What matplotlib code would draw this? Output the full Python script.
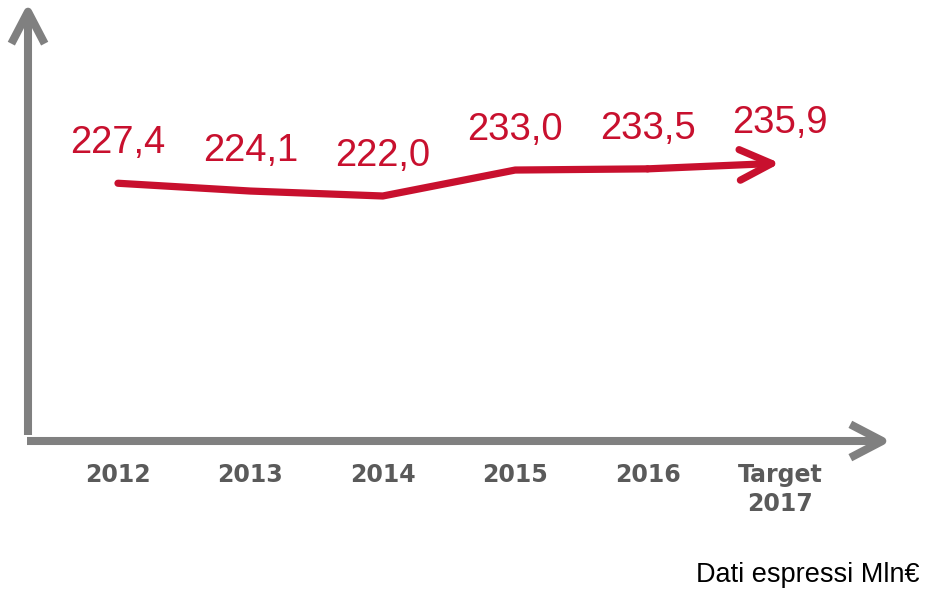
import matplotlib
matplotlib.use("Agg")
import matplotlib.pyplot as plt

years = ["2012", "2013", "2014", "2015", "2016", "Target\n2017"]
values = [227.4, 224.1, 222.0, 233.0, 233.5, 235.9]
labels = ["227,4", "224,1", "222,0", "233,0", "233,5", "235,9"]
note = "Dati espressi Mln€"

RED = "#C8102E"
GREY = "#808080"
W, H = 925, 589

fig = plt.figure(figsize=(W / 100, H / 100), dpi=100)
ax = fig.add_axes([0, 0, 1, 1])
ax.set_xlim(-0.891, 6.095)
ax.set_ylim(55.47, 305.05)
ax.axis("off")

def px(x, y):
    # pixel position -> axes fraction (for decorations only)
    return (x / W, 1 - y / H)

# grey axis arrows
axis_style = dict(arrowstyle="->,head_length=23,head_width=12", color=GREY, lw=5.8,
                  mutation_scale=1, shrinkA=0, shrinkB=0,
                  capstyle="butt", joinstyle="round")
ax.annotate("", xy=px(28, 3), xytext=px(28, 435), xycoords="axes fraction",
            textcoords="axes fraction", arrowprops=axis_style)
ax.annotate("", xy=px(891, 441), xytext=px(27, 441), xycoords="axes fraction",
            textcoords="axes fraction", arrowprops=axis_style)

# red series line, last segment as arrow
x = list(range(len(values)))
ax.plot(x[:-1], values[:-1], color=RED, lw=5.2, solid_capstyle="round",
        solid_joinstyle="round")
ax.annotate("", xy=(x[-1], values[-1]), xytext=(x[-2], values[-2]),
            arrowprops=dict(arrowstyle="->,head_length=23,head_width=11", color=RED,
                            lw=5.2, mutation_scale=1, shrinkA=0, shrinkB=0,
                            capstyle="round", joinstyle="round"))

for xi, v, lab in zip(x, values, labels):
    ax.annotate(lab, xy=(xi, v), xytext=(0, 29), textcoords="offset points",
                ha="center", va="center", color=RED, fontsize=27.5,
                family="Liberation Sans")

for xi, yr in zip(x, years):
    ax.text(xi, px(0, 463)[1], yr, transform=ax.get_xaxis_transform(),
            ha="center", va="top", color="#5a5a5a", fontsize=17,
            fontweight="bold", family="DejaVu Sans", linespacing=1.25)

ax.text(*px(920, 575), note, transform=ax.transAxes, ha="right", va="center",
        fontsize=19.5, color="black", family="Liberation Sans")

fig.savefig("out.png", dpi=100)
